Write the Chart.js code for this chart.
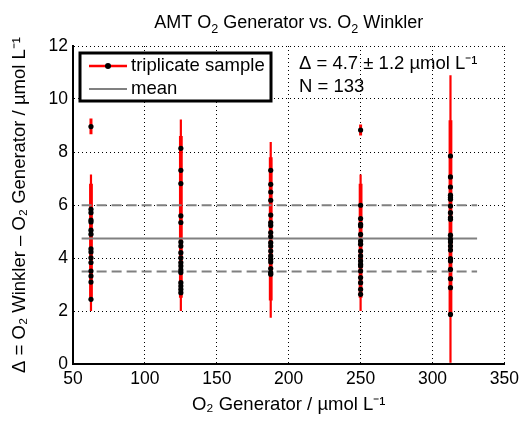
<!DOCTYPE html>
<html>
<head>
<meta charset="utf-8">
<script src="https://cdn.jsdelivr.net/npm/chart.js@4"></script>
<style>
  html, body { margin: 0; padding: 0; background: #ffffff; }
  #wrap { width: 524px; height: 426px; position: relative; }
</style>
</head>
<body>
<div id="wrap"><canvas id="c" width="524" height="426"></canvas></div>
<script>
// ---- data ----
const titleParts = [['AMT O', 0], ['2', 1], [' Generator vs. O', 0], ['2', 1], [' Winkler', 0]];
const xTitle = 'O\u2082 Generator / \u00b5mol L\u207b\u00b9';
const yTitle = '\u0394 = O\u2082 Winkler \u2013 O\u2082 Generator / \u00b5mol L\u207b\u00b9';
const statText = '\u0394 = 4.7 \u00b1 1.2 \u00b5mol L\u207b\u00b9';
const nText = 'N = 133';
const legendLabels = ['triplicate sample', 'mean'];

const groupX = [62.5, 125, 187.5, 250, 312.5];
// full extent of the red (triplicate) bars in each group
const rangeLow  = [2.00, 2.00, 1.75, 2.00, 0.05];
const rangeHigh = [7.15, 9.23, 8.38, 7.15, 10.90];
// denser core of the overlapping bars
const coreLow   = [2.50, 2.50, 2.40, 2.50, 1.90];
const coreHigh  = [6.80, 8.60, 7.80, 6.80, 9.20];
// isolated upper sample bars
const outlierX    = [62.5, 250];
const outlierLow  = [8.67, 8.62];
const outlierHigh = [9.26, 9.04];

const dots1 = [8.96, 5.84, 5.71, 5.43, 5.36, 5.05, 4.90, 4.35, 4.23, 4.01, 3.83, 3.51, 3.32, 3.09, 2.44];
const dots2 = [8.14, 7.31, 6.81, 5.59, 5.34, 4.60, 4.45, 4.20, 4.01, 3.83, 3.70, 3.55, 3.45, 3.07, 2.94, 2.82, 2.69];
const dots3 = [7.31, 6.78, 6.49, 6.18, 5.62, 5.34, 5.23, 4.96, 4.81, 4.58, 4.45, 4.26, 4.08, 3.95, 3.85, 3.60, 3.45, 3.39];
const dots4 = [8.83, 5.99, 5.49, 5.27, 5.21, 4.89, 4.64, 4.52, 4.26, 4.08, 3.89, 3.76, 3.70, 3.51, 3.26, 3.07, 2.82, 2.63];
const dots5 = [7.85, 7.06, 6.68, 6.37, 6.28, 6.22, 5.96, 5.71, 5.52, 5.46, 4.86, 4.71, 4.60, 4.45, 4.30, 3.98, 3.89, 3.57, 3.22, 2.88, 1.87];
const allDots = [dots1, dots2, dots3, dots4, dots5];

const meanVal = 4.74;
const upperVal = 5.99;
const lowerVal = 3.49;
const meanSpan = [56, 331];

const xTicks = [50, 100, 150, 200, 250, 300, 350];
const yTicks = [0, 2, 4, 6, 8, 10, 12];

// ---- build datasets ----
const FONT = "'Liberation Sans', Arial, Helvetica, sans-serif";
const RED = '#ff0000';
const GRAY = '#808080';
const datasets = [];

allDots.forEach((arr, i) => {
  datasets.push({
    type: 'scatter',
    data: arr.map(v => ({ x: groupX[i], y: v })),
    pointRadius: 2.6, pointBackgroundColor: '#000', pointBorderColor: '#000',
    pointBorderWidth: 0, showLine: false, order: 0
  });
});

function hLine(y, dash) {
  datasets.push({
    type: 'line',
    data: [{ x: meanSpan[0], y: y }, { x: meanSpan[1], y: y }],
    borderColor: GRAY, borderWidth: 2, borderDash: dash, pointRadius: 0, order: 1
  });
}
hLine(meanVal, []);
hLine(upperVal, [10, 5]);
hLine(lowerVal, [10, 5]);

function vLine(x, lo, hi, w) {
  datasets.push({
    type: 'line',
    data: [{ x: x, y: lo }, { x: x, y: hi }],
    borderColor: RED, borderWidth: w, pointRadius: 0, order: 2
  });
}
groupX.forEach((x, i) => {
  vLine(x, rangeLow[i], rangeHigh[i], 2.2);
  vLine(x, coreLow[i], coreHigh[i], 3.8);
});
outlierX.forEach((x, i) => vLine(x, outlierLow[i], outlierHigh[i], 3));

// ---- title, custom legend, annotation ----
function drawRich(ctx, parts, cx, baseY, size) {
  const sub = size * 0.7;
  let w = 0;
  parts.forEach(([t, s]) => {
    ctx.font = (s ? sub : size) + 'px ' + FONT;
    w += ctx.measureText(t).width;
  });
  let x = cx - w / 2;
  ctx.textAlign = 'left';
  ctx.textBaseline = 'alphabetic';
  parts.forEach(([t, s]) => {
    ctx.font = (s ? sub : size) + 'px ' + FONT;
    ctx.fillText(t, x, baseY + (s ? size * 0.3 : 0));
    x += ctx.measureText(t).width;
  });
}

const overlay = {
  id: 'overlay',
  afterDraw(chart) {
    const ctx = chart.ctx;
    const area = chart.chartArea;
    ctx.save();
    ctx.fillStyle = '#000';
    drawRich(ctx, titleParts, (area.left + area.right) / 2, 28, 18);
    // legend box
    const bx = 80, by = 53, bw = 191, bh = 48;
    ctx.fillStyle = '#fff';
    ctx.fillRect(bx, by, bw, bh);
    ctx.strokeStyle = '#000';
    ctx.lineWidth = 3;
    ctx.strokeRect(bx, by, bw, bh);
    ctx.strokeStyle = RED; ctx.lineWidth = 2.5;
    ctx.beginPath(); ctx.moveTo(89, 66); ctx.lineTo(127, 66); ctx.stroke();
    ctx.fillStyle = '#000';
    ctx.beginPath(); ctx.arc(108, 66, 3, 0, Math.PI * 2); ctx.fill();
    ctx.strokeStyle = GRAY; ctx.lineWidth = 2;
    ctx.beginPath(); ctx.moveTo(89, 89); ctx.lineTo(127, 89); ctx.stroke();
    ctx.fillStyle = '#000';
    ctx.font = '18.5px ' + FONT;
    ctx.textBaseline = 'middle';
    ctx.textAlign = 'left';
    ctx.fillText(legendLabels[0], 131, 66);
    ctx.fillText(legendLabels[1], 131, 89);
    ctx.fillText(statText, 299, 64);
    ctx.fillText(nText, 299, 87);
    ctx.restore();
  }
};

new Chart(document.getElementById('c'), {
  data: { datasets },
  options: {
    responsive: false,
    animation: false,
    layout: { padding: { left: 0, right: 17, top: 46, bottom: 0 } },
    plugins: {
      legend: { display: false },
      tooltip: { enabled: false },
      title: { display: false }
    },
    scales: {
      x: {
        type: 'linear', min: 50, max: 350,
        afterBuildTicks: s => { s.ticks = xTicks.map(v => ({ value: v })); },
        afterFit: s => { s.height = 62; },
        ticks: { color: '#000', font: { family: FONT, size: 17.5 }, padding: 5, maxRotation: 0 },
        grid: { color: '#000', lineWidth: 1, drawTicks: false },
        border: { color: '#000', width: 2, dash: [1, 3] },
        title: { display: true, text: xTitle, color: '#000', font: { family: FONT, size: 18.5 }, padding: { top: 0, bottom: 10 } }
      },
      y: {
        type: 'linear', min: 0, max: 12,
        afterBuildTicks: s => { s.ticks = yTicks.map(v => ({ value: v })); },
        afterFit: s => { s.width = 73; },
        ticks: { color: '#000', font: { family: FONT, size: 17.5 }, padding: 5 },
        grid: { color: '#000', lineWidth: 1, drawTicks: false },
        border: { color: '#000', width: 2, dash: [1, 3] },
        title: { display: true, text: yTitle, color: '#000', font: { family: FONT, size: 18.5 }, padding: { top: 9, bottom: 0 } }
      }
    }
  },
  plugins: [overlay]
});
</script>
</body>
</html>
